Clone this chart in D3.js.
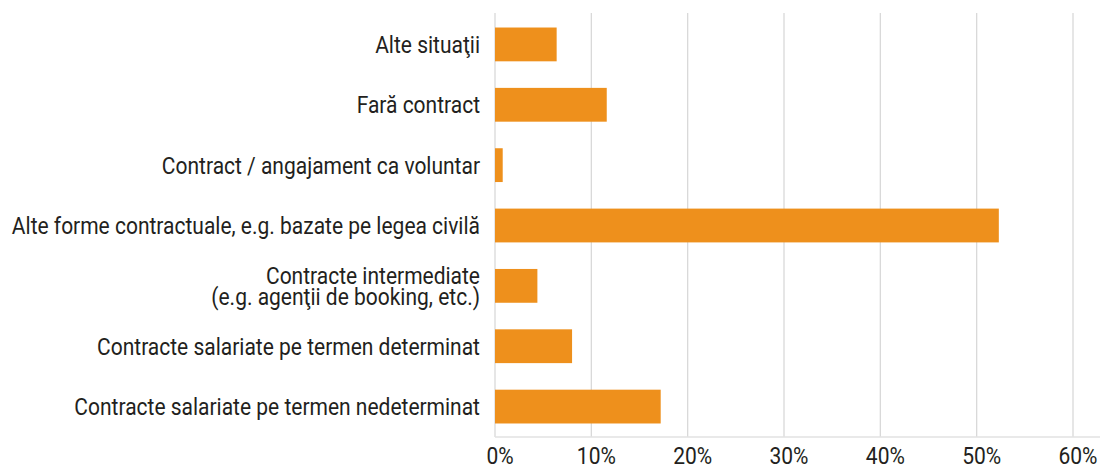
<!DOCTYPE html>
<html>
<head>
<meta charset="utf-8">
<script src="https://cdn.jsdelivr.net/npm/d3@7"></script>
<style>
  body { margin: 0; background: #fff; }
  svg text { font-family: Roboto, "Noto Sans", sans-serif; fill: #231f20; }
</style>
</head>
<body>
<svg width="1100" height="467"></svg>
<script>
const categories = [
  'Alte situaţii',
  'Fară contract',
  'Contract / angajament ca voluntar',
  'Alte forme contractuale, e.g. bazate pe legea civilă',
  'Contracte intermediate\n(e.g. agenţii de booking, etc.)',
  'Contracte salariate pe termen determinat',
  'Contracte salariate pe termen nedeterminat'
]
const values = [6.4, 11.6, 0.8, 52.3, 4.4, 8.0, 17.2]
const xTicks = [0, 10, 20, 30, 40, 50, 60]

const squeeze = 0.875   // fake a condensed face

const svg = d3.select('svg')

const x = d3.scaleLinear()
    .domain([0, 60])
    .range([495, 1073])

const y = d3.scaleBand()
    .domain(categories)
    .range([14, 437])
    .paddingInner(0.44)
    .paddingOuter(0.224)

// grid
svg.append('g')
    .selectAll('line').data(xTicks)
    .enter().append('line')
        .attr('x1', d => x(d)).attr('x2', d => x(d))
        .attr('y1', 13).attr('y2', 437)
        .attr('stroke', d => d === 0 ? '#e6e6e6' : '#d9d9d9')
        .attr('stroke-width', d => d === 0 ? 2 : 1.3)

svg.append('line')
    .attr('x1', x(0)).attr('x2', 1100)
    .attr('y1', 437).attr('y2', 437)
    .attr('stroke', '#e2e2e2')
    .attr('stroke-width', 1.5)

// bars
svg.append('g')
    .selectAll('rect').data(values)
    .enter().append('rect')
        .attr('x', x(0))
        .attr('y', (d, i) => y(categories[i]))
        .attr('width', d => x(d) - x(0))
        .attr('height', y.bandwidth())
        .attr('fill', '#ee901c')

// category labels
const lab = svg.append('g')
    .selectAll('text').data(categories)
    .enter().append('text')
        .attr('transform', d => `translate(480,${y(d) + y.bandwidth() / 2}) scale(${squeeze},1)`)
        .attr('text-anchor', 'end')
        .attr('font-size', 24)

lab.each(function(d) {
    const lines = d.split('\n')
    const lh = 21
    d3.select(this).selectAll('tspan').data(lines)
        .enter().append('tspan')
            .attr('x', 0)
            .attr('y', (l, i) => (i - (lines.length - 1) / 2) * lh)
            .attr('dy', '0.36em')
            .text(l => l)
})

// tick labels
svg.append('g')
    .selectAll('text').data(xTicks)
    .enter().append('text')
        .attr('transform', d => `translate(${x(d) + 5},464) scale(${squeeze},1)`)
        .attr('text-anchor', 'middle')
        .attr('font-size', 24)
        .text(d => d + '%')
</script>
</body>
</html>
